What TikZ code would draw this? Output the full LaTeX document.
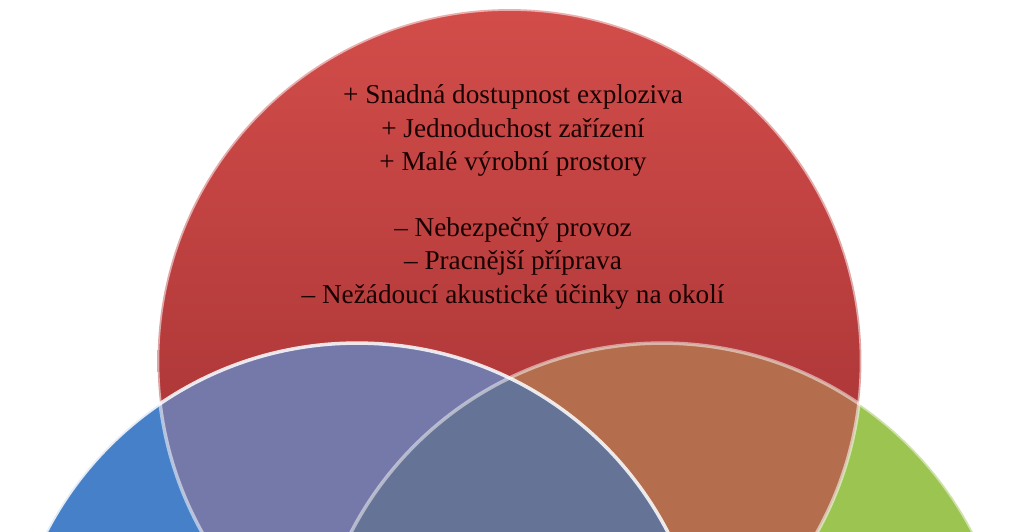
\documentclass[tikz,border=0pt]{standalone}
\usepackage{fontspec}
\setmainfont{Liberation Serif}
\usetikzlibrary{positioning}

\definecolor{redtop}{RGB}{210,77,74}
\definecolor{redbot}{RGB}{150,40,44}
\definecolor{bluefill}{RGB}{70,128,200}
\definecolor{greenfill}{RGB}{155,196,80}
\definecolor{purplemix}{RGB}{116,121,170}
\definecolor{brownmix}{RGB}{180,110,78}
\definecolor{slatemix}{RGB}{100,115,150}

\tikzset{
  rim/.style={draw=white, line width=0.07cm},
  pros/.style={align=center, font=\fontsize{15.5}{18.9}\selectfont, text=black!90!red}
}

\begin{document}
\begin{tikzpicture}[x=0.02cm, y=-0.02cm]
  \useasboundingbox (0,0) rectangle (1023,531);
  \clip (0,0) rectangle (1023,531);

  % Circle centres
  \coordinate (redC) at (509.5,361);
  \coordinate (blueC) at (357,693);
  \coordinate (greenC) at (662,693);

  % Circles
  \shade[top color=redtop, bottom color=redbot] (redC) circle[radius=7.04cm];
  \fill[bluefill] (blueC) circle[radius=7cm];
  \fill[greenfill] (greenC) circle[radius=7cm];

  % Overlaps
  \begin{scope}
    \clip (redC) circle[radius=7.04cm];
    \fill[purplemix] (blueC) circle[radius=7cm];
    \fill[brownmix] (greenC) circle[radius=7cm];
    \clip (blueC) circle[radius=7cm];
    \fill[slatemix] (greenC) circle[radius=7cm];
  \end{scope}

  % Rims
  \draw[rim, draw opacity=0.55] (redC) circle[radius=7.04cm];
  \draw[rim, draw opacity=0.5] (greenC) circle[radius=7cm];
  \draw[rim, draw opacity=0.85] (blueC) circle[radius=7cm];

  % Text
  \node[pros] (list) at (513,197) {+ Snadná dostupnost exploziva\\
    + Jednoduchost zařízení\\
    + Malé výrobní prostory\\[18.9pt]
    – Nebezpečný provoz\\
    – Pracnější příprava\\
    – Nežádoucí akustické účinky na okolí};
\end{tikzpicture}
\end{document}
